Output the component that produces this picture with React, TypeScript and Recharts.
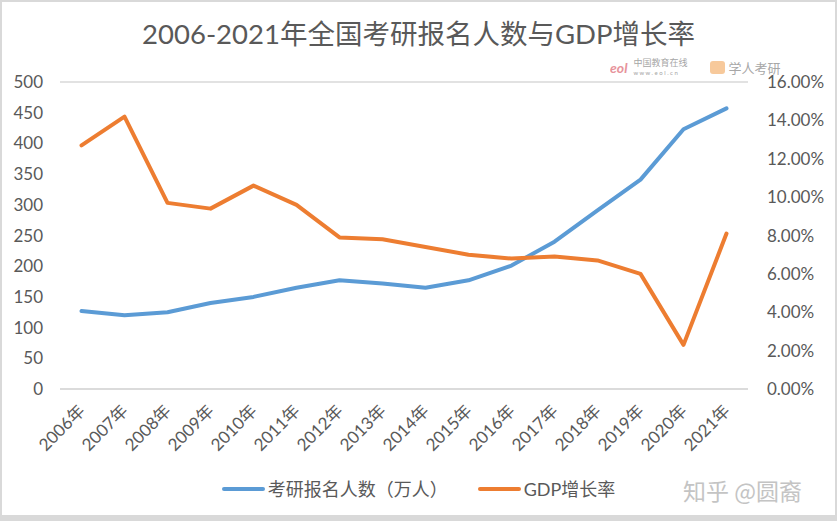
import React from 'react';
import { LineChart, Line, XAxis, YAxis, CartesianGrid, Legend } from 'recharts';

const years = [
  '2006年', '2007年', '2008年', '2009年', '2010年', '2011年', '2012年', '2013年',
  '2014年', '2015年', '2016年', '2017年', '2018年', '2019年', '2020年', '2021年',
];
// 考研报名人数（万人）
const applicants = [127, 120, 125, 140, 150, 165, 177, 172, 165, 177, 201, 240, 291, 341, 423, 457];
// GDP增长率 (%)
const gdpGrowth = [12.7, 14.2, 9.7, 9.4, 10.6, 9.6, 7.9, 7.8, 7.4, 7.0, 6.8, 6.9, 6.7, 6.0, 2.3, 8.1];

const leftTicks = [0, 50, 100, 150, 200, 250, 300, 350, 400, 450, 500];
const rightTicks = [0, 2, 4, 6, 8, 10, 12, 14, 16];

const data = years.map((name, i) => ({
  name,
  applicants: applicants[i],
  gdp: gdpGrowth[i],
}));

const FONT = "Lato, 'Noto Sans CJK SC', sans-serif";
const TEXT = '#595959';
const BLUE = '#5B9BD5';
const ORANGE = '#ED7D31';

const YearTick = (props: any) => {
  const { x, y, payload } = props;
  const ax = x + 4.5;
  const ay = y + 15;
  return (
    <text
      x={ax}
      y={ay}
      textAnchor="end"
      fill={TEXT}
      fontSize={17}
      fontFamily={FONT}
      transform={`rotate(-45, ${ax}, ${ay})`}
    >
      {payload.value}
    </text>
  );
};

const legendItems = [
  { label: '考研报名人数（万人）', color: BLUE },
  { label: 'GDP增长率', color: ORANGE },
];

const ChartLegend = () => (
  <div style={{ display: 'flex', justifyContent: 'center', gap: 30, fontFamily: FONT }}>
    {legendItems.map((item) => (
      <div key={item.label} style={{ display: 'flex', alignItems: 'center' }}>
        <span
          style={{
            display: 'inline-block',
            width: 43,
            height: 4,
            borderRadius: 2,
            background: item.color,
            marginRight: 3,
          }}
        />
        <span style={{ fontSize: 18, color: TEXT, lineHeight: '24px' }}>{item.label}</span>
      </div>
    ))}
  </div>
);

export default function App() {
  return (
    <div
      style={{
        position: 'fixed',
        left: 0,
        top: 0,
        width: 837,
        height: 521,
        background: '#d9d9d9',
      }}
    >
      <div
        style={{
          position: 'absolute',
          left: 2,
          top: 2,
          width: 833,
          height: 513,
          background: '#ffffff',
        }}
      />
      <div
        style={{
          position: 'absolute',
          left: 0,
          top: 16,
          width: 837,
          textAlign: 'center',
          fontFamily: FONT,
          fontSize: 27.5,
          color: TEXT,
          lineHeight: '36px',
        }}
      >
        2006-2021年全国考研报名人数与GDP增长率
      </div>
      <div
        style={{
          position: 'absolute',
          left: 610,
          top: 58,
          fontFamily: FONT,
          display: 'flex',
          alignItems: 'center',
          gap: 22,
          opacity: 0.75,
        }}
      >
        <span style={{ display: 'flex', alignItems: 'center' }}>
          <span style={{ color: '#e0707a', fontSize: 14, fontWeight: 700, fontStyle: 'italic' }}>eol</span>
          <span style={{ marginLeft: 6, fontSize: 9, color: '#888', lineHeight: '9px' }}>
            中国教育在线
            <br />
            <span style={{ fontSize: 6 }}>w w w . e o l . c n</span>
          </span>
        </span>
        <span style={{ display: 'flex', alignItems: 'center' }}>
          <span
            style={{
              display: 'inline-block',
              width: 15,
              height: 13,
              borderRadius: 3,
              background: '#f5b77a',
              marginRight: 4,
            }}
          />
          <span style={{ fontSize: 13, color: '#8a8a8a', lineHeight: '14px' }}>学人考研</span>
        </span>
      </div>
      <div
        style={{
          position: 'absolute',
          left: 683,
          top: 476,
          fontFamily: "'Noto Sans CJK SC', sans-serif",
          fontSize: 23,
          color: '#c4c4c4',
          lineHeight: '28px',
          whiteSpace: 'nowrap',
        }}
      >
        知乎 @圆裔
      </div>
      <div style={{ position: 'absolute', left: 0, top: 0 }}>
        <LineChart
          width={837}
          height={521}
          data={data}
          margin={{ top: 82, right: 0, bottom: 72, left: 0 }}
        >
          <CartesianGrid vertical={false} stroke="#d9d9d9" strokeWidth={1.5} />
          <XAxis
            dataKey="name"
            interval={0}
            height={60}
            padding={{ left: 21.5, right: 21.5 }}
            tick={<YearTick />}
            tickLine={false}
            axisLine={{ stroke: '#d9d9d9', strokeWidth: 1.5 }}
          />
          <YAxis
            yAxisId="left"
            width={60}
            domain={[0, 500]}
            ticks={leftTicks}
            interval={0}
            tickLine={false}
            axisLine={false}
            tick={{ fill: TEXT, fontSize: 17, fontFamily: FONT, dx: -9 }}
          />
          <YAxis
            yAxisId="right"
            orientation="right"
            width={89}
            domain={[0, 16]}
            ticks={rightTicks}
            interval={0}
            tickLine={false}
            axisLine={false}
            tickFormatter={(v: number) => `${v.toFixed(2)}%`}
            tick={{ fill: TEXT, fontSize: 17, fontFamily: FONT, dx: 11, textAnchor: 'start' }}
          />
          <Legend
            verticalAlign="middle"
            align="center"
            layout="horizontal"
            wrapperStyle={{ top: 477, left: 0, width: 837 }}
            content={<ChartLegend />}
          />
          <Line
            yAxisId="left"
            type="linear"
            dataKey="applicants"
            name="考研报名人数（万人）"
            stroke={BLUE}
            strokeWidth={4}
            dot={false}
            strokeLinecap="round"
            strokeLinejoin="round"
            isAnimationActive={false}
          />
          <Line
            yAxisId="right"
            type="linear"
            dataKey="gdp"
            name="GDP增长率"
            stroke={ORANGE}
            strokeWidth={4}
            dot={false}
            strokeLinecap="round"
            strokeLinejoin="round"
            isAnimationActive={false}
          />
        </LineChart>
      </div>
    </div>
  );
}
